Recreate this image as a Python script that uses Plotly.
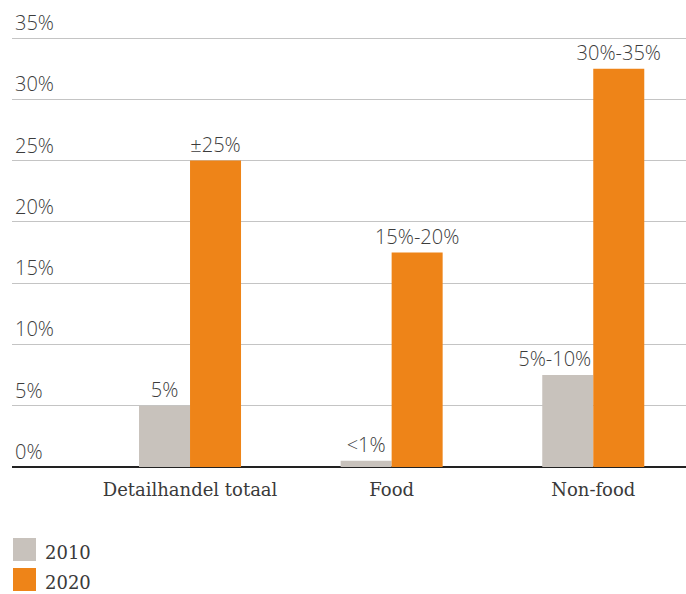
import plotly.graph_objects as go

categories = ["Detailhandel totaal", "Food", "Non-food"]
series_names = ["2010", "2020"]
values_2010 = [5, 0.5, 7.5]
values_2020 = [25, 17.5, 32.5]
labels_2010 = ["5%", "<1%", "5%-10%"]
labels_2020 = ["±25%", "15%-20%", "30%-35%"]
tick_vals = [0, 5, 10, 15, 20, 25, 30, 35]
tick_text = ["0%", "5%", "10%", "15%", "20%", "25%", "30%", "35%"]

colors = ["#c8c2bc", "#ee8418"]
num_font = dict(family="Open Sans", size=20, color="#3c3c3c", weight=300)
cat_font = dict(family="DejaVu Serif", size=18, color="#3a3a3a")

pad = "\u00a0" * 5
templates = [
    ["%{text}", "%{text}", "%{text}" + pad],
    ["%{text}", "%{text}", "%{text}"],
]

fig = go.Figure()
for name, vals, labs, col, tpl in [
    (series_names[0], values_2010, labels_2010, colors[0], templates[0]),
    (series_names[1], values_2020, labels_2020, colors[1], templates[1]),
]:
    fig.add_trace(go.Bar(
        x=categories, y=vals, name=name, marker=dict(color=col, line=dict(width=0)),
        text=labs, texttemplate=tpl, textposition="outside", textfont=num_font,
        constraintext="none", cliponaxis=False, showlegend=False,
        hoverinfo="skip",
    ))

W, H = 686, 594
ml, mr, mt, mb = 12, 0, 0, 127
y_top_range = 38.1
fig.update_layout(
    width=W, height=H,
    margin=dict(l=ml, r=mr, t=mt, b=mb, autoexpand=False),
    paper_bgcolor="white", plot_bgcolor="white",
    barmode="group", bargap=0.494, bargroupgap=0,
    xaxis=dict(range=[-0.883, 2.46], showgrid=False, ticks="",
               tickfont=cat_font, showline=False, zeroline=False,
               ticklabelstandoff=10),
    yaxis=dict(range=[0, y_top_range], tickvals=tick_vals, ticktext=tick_text,
               ticklabelposition="inside", ticklabelshift=-15,
               tickfont=num_font, showgrid=True, gridcolor="#c4c4c4",
               gridwidth=1, zeroline=True, zerolinecolor="#222222",
               zerolinewidth=2, showline=False, ticks=""),
    showlegend=False,
)

# manual legend with large square swatches
ph = H - mt - mb
pw = W - ml - mr
for i, (name, col) in enumerate(zip(series_names, colors)):
    y_top = 538 + i * 30
    fig.add_shape(type="rect", xref="paper", yref="paper",
                  x0=(13 - ml) / pw, x1=(36 - ml) / pw,
                  y0=(H - mb - (y_top + 23)) / ph,
                  y1=(H - mb - y_top) / ph,
                  fillcolor=col, line=dict(width=0))
    fig.add_annotation(text=name, xref="paper", yref="paper",
                       x=(43 - ml) / pw,
                       y=(H - mb - (y_top + 14)) / ph,
                       xanchor="left", yanchor="middle", showarrow=False,
                       font=cat_font)

fig.write_html("out.html", config={"displayModeBar": False},
               post_script="document.body.style.margin='0';")
